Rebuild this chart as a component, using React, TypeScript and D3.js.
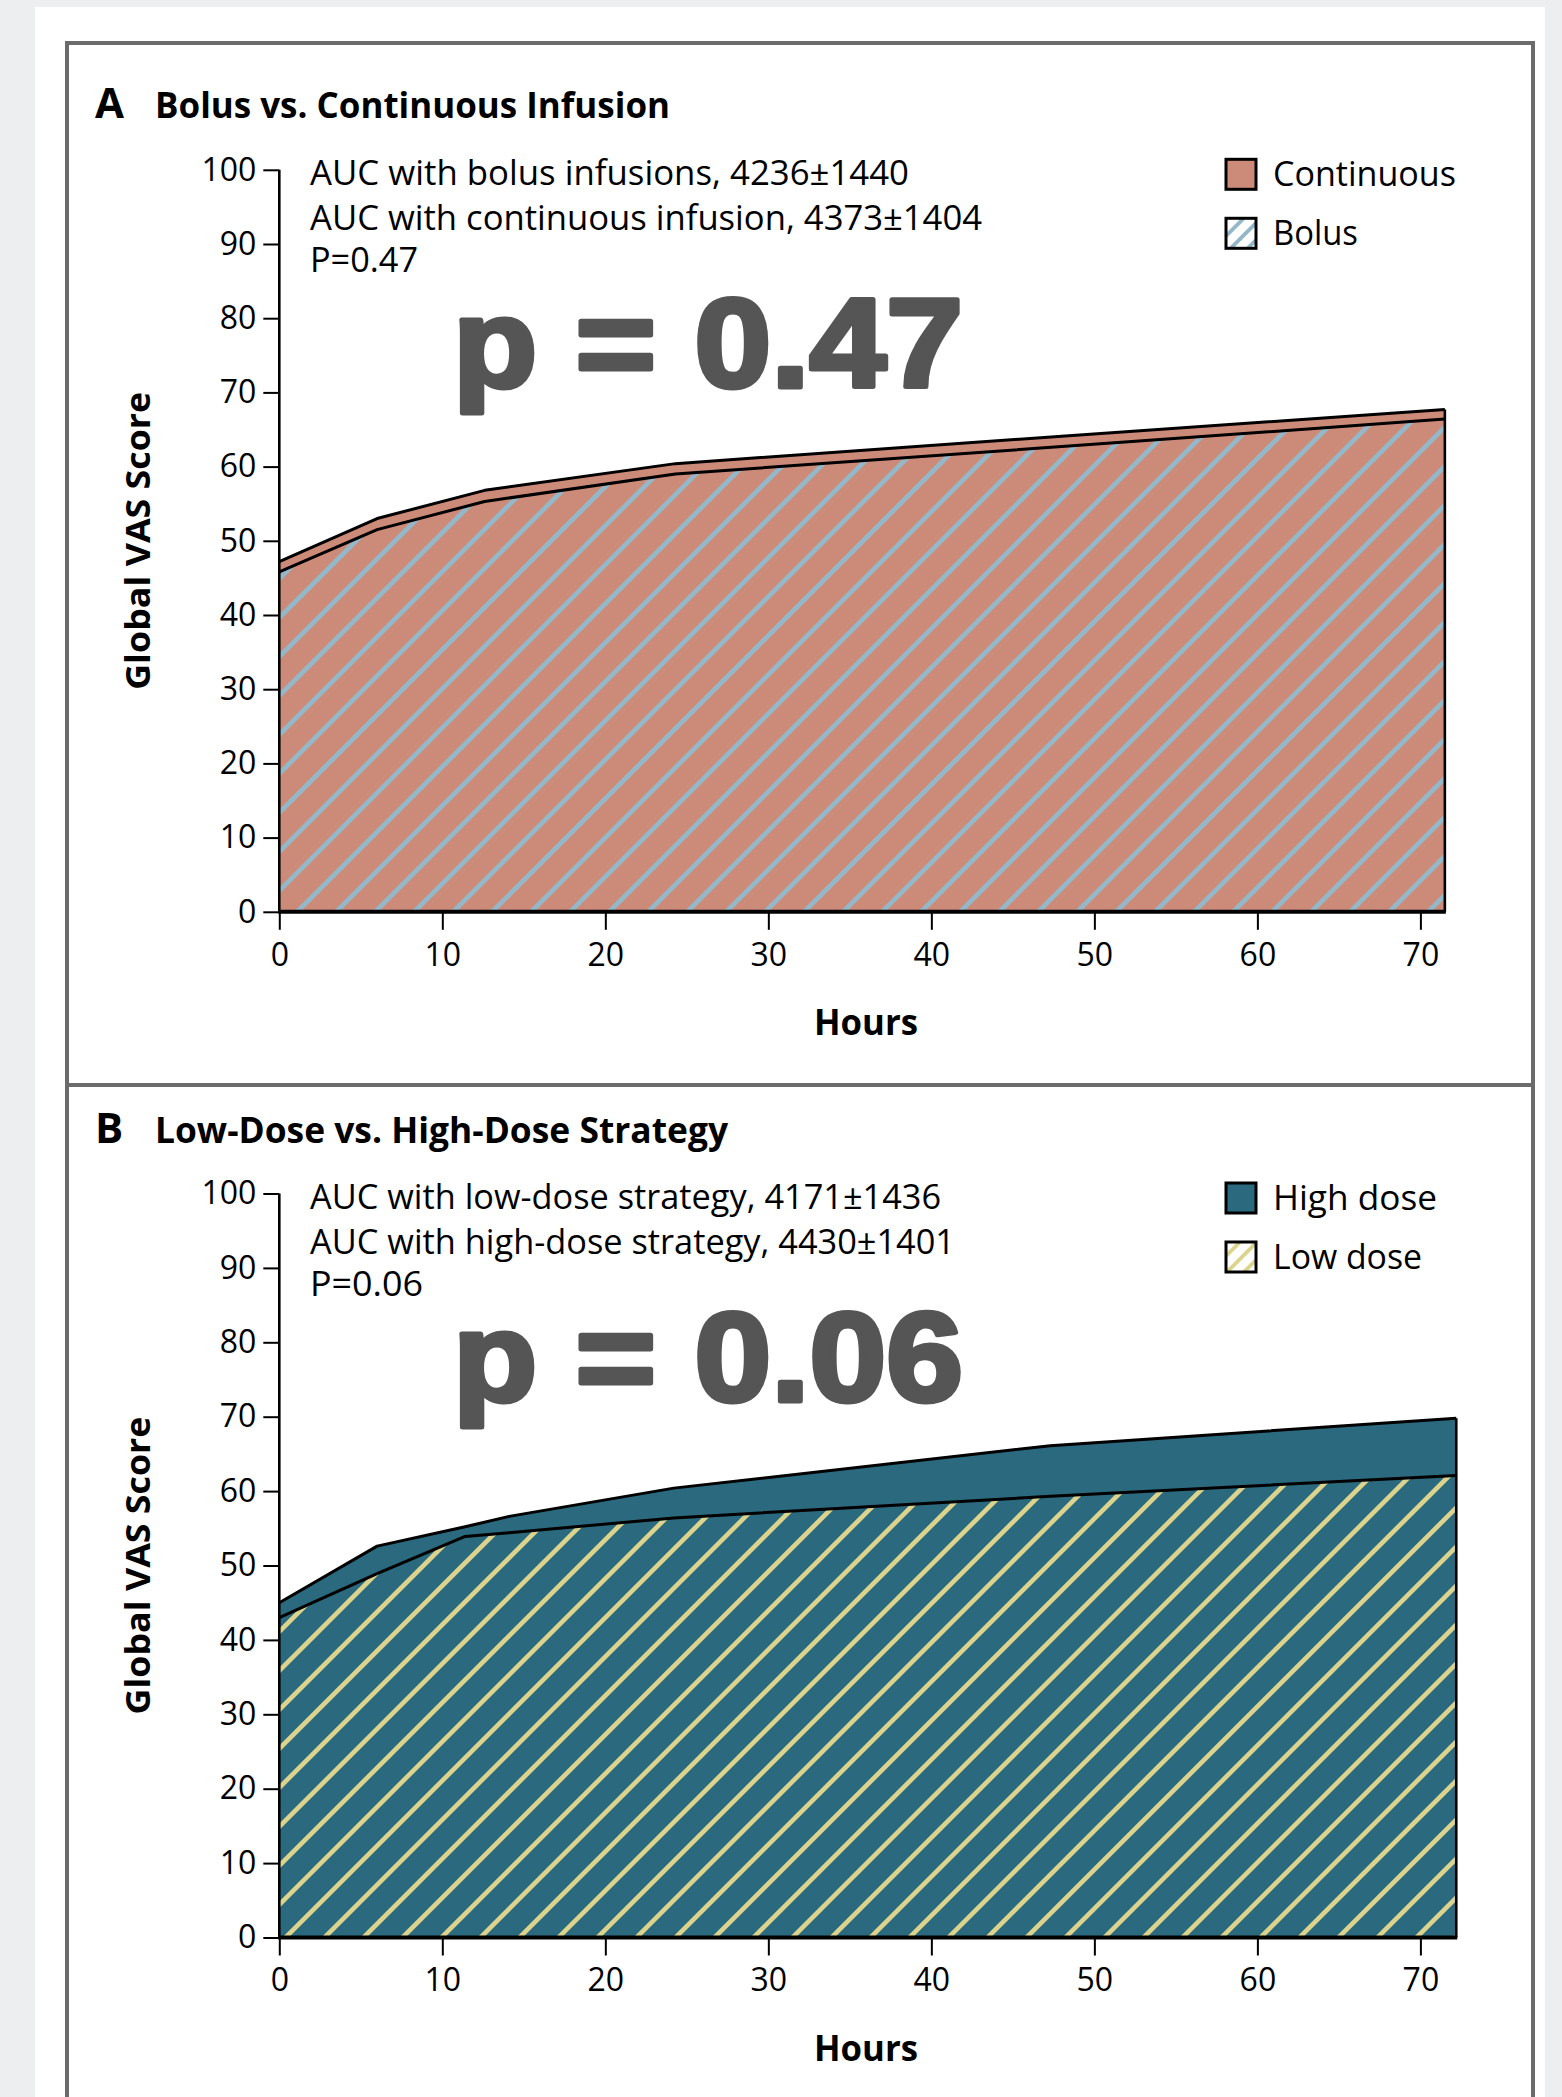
import * as d3 from "d3";
import { useEffect, useRef } from "react";

const WIDTH = 1562;
const HEIGHT = 2097;

// Panel A: bolus vs. continuous infusion
const HOURS_A = [0, 6, 12.6, 24.3, 48, 71.5];
const CONTINUOUS = [47.2, 53.0, 56.8, 60.4, 64.1, 67.7];
const BOLUS = [45.8, 51.5, 55.3, 59.0, 62.7, 66.4];
const AUC_A = [
  "AUC with bolus infusions, 4236±1440",
  "AUC with continuous infusion, 4373±1404",
  "P=0.47",
];

// Panel B: low-dose vs. high-dose strategy
const HOURS_B = [0, 6, 11.4, 14.1, 24.2, 47.3, 72.2];
const HIGH_DOSE = [45.0, 52.6, 55.2, 56.6, 60.4, 66.1, 69.8];
const LOW_DOSE = [43.0, 48.9, 53.9, 54.4, 56.4, 59.3, 62.1];
const AUC_B = [
  "AUC with low-dose strategy, 4171±1436",
  "AUC with high-dose strategy, 4430±1401",
  "P=0.06",
];

const Y_TICKS = [0, 10, 20, 30, 40, 50, 60, 70, 80, 90, 100];
const X_TICKS = [0, 10, 20, 30, 40, 50, 60, 70];

const SANS = "'Open Sans', 'Noto Sans', sans-serif";
const HEAVY = "'Liberation Sans', Arial, sans-serif";

interface Panel {
  key: string;
  letter: string;
  title: string;
  titleWidth: number;
  titleY: number;
  y0: number;
  y100: number;
  hours: number[];
  top: number[];
  bottom: number[];
  topColor: string;
  hatchColor: string;
  topLabel: string;
  bottomLabel: string;
  legendWidths: [number, number];
  auc: string[];
  aucWidths: number[];
  big: string;
  bigY: number;
}

const PANELS: Panel[] = [
  {
    key: "a",
    letter: "A",
    title: "Bolus vs. Continuous Infusion",
    titleWidth: 515,
    titleY: 118,
    y0: 911.8,
    y100: 169.8,
    hours: HOURS_A,
    top: CONTINUOUS,
    bottom: BOLUS,
    topColor: "#cc8b79",
    hatchColor: "#93b8c9",
    topLabel: "Continuous",
    bottomLabel: "Bolus",
    legendWidths: [183, 85],
    auc: AUC_A,
    aucWidths: [599, 672, 108],
    big: "p = 0.47",
    bigY: 387,
  },
  {
    key: "b",
    letter: "B",
    title: "Low-Dose vs. High-Dose Strategy",
    titleWidth: 573,
    titleY: 1143,
    y0: 1937.5,
    y100: 1193.5,
    hours: HOURS_B,
    top: HIGH_DOSE,
    bottom: LOW_DOSE,
    topColor: "#2b697e",
    hatchColor: "#dcd48c",
    topLabel: "High dose",
    bottomLabel: "Low dose",
    legendWidths: [164, 149],
    auc: AUC_B,
    aucWidths: [631, 645, 113],
    big: "p = 0.06",
    bigY: 1401,
  },
];

type Sel = d3.Selection<SVGGElement, unknown, null, undefined>;

function drawPanel(root: Sel, defs: d3.Selection<SVGDefsElement, unknown, null, undefined>, p: Panel) {
  const x = d3.scaleLinear().domain([0, 70]).range([279.3, 1420.4]);
  const y = d3.scaleLinear().domain([0, 100]).range([p.y0, p.y100]);
  const g = root.append("g");

  // diagonal hatch for the lower series (transparent so the upper fill shows through)
  const pat = defs
    .append("pattern")
    .attr("id", `hatch-${p.key}`)
    .attr("patternUnits", "userSpaceOnUse")
    .attr("width", 39)
    .attr("height", 39);
  pat
    .append("path")
    .attr("d", "M-6,6 L6,-6 M0,39 L39,0 M33,45 L45,33")
    .attr("stroke", p.hatchColor)
    .attr("stroke-width", 4.6);

  const legPat = defs
    .append("pattern")
    .attr("id", `hatch-leg-${p.key}`)
    .attr("patternUnits", "userSpaceOnUse")
    .attr("width", 17)
    .attr("height", 17);
  legPat.append("rect").attr("width", 17).attr("height", 17).attr("fill", "#fff");
  legPat
    .append("path")
    .attr("d", "M-4,4 L4,-4 M0,17 L17,0 M13,21 L21,13")
    .attr("stroke", p.hatchColor)
    .attr("stroke-width", 3.8);

  const data = p.hours.map((h, i) => ({ h, top: p.top[i], bottom: p.bottom[i] }));
  const last = data[data.length - 1];

  const areaTop = d3
    .area<(typeof data)[number]>()
    .x((d) => x(d.h))
    .y0(y(0))
    .y1((d) => y(d.top));
  const areaBottom = d3
    .area<(typeof data)[number]>()
    .x((d) => x(d.h))
    .y0(y(0))
    .y1((d) => y(d.bottom));

  g.append("path").attr("d", areaTop(data) ?? "").attr("fill", p.topColor);
  g.append("path").attr("d", areaBottom(data) ?? "").attr("fill", `url(#hatch-${p.key})`);

  const lineTop = d3
    .line<(typeof data)[number]>()
    .x((d) => x(d.h))
    .y((d) => y(d.top));
  const lineBottom = d3
    .line<(typeof data)[number]>()
    .x((d) => x(d.h))
    .y((d) => y(d.bottom));
  [lineTop, lineBottom].forEach((ln) =>
    g
      .append("path")
      .attr("d", ln(data) ?? "")
      .attr("fill", "none")
      .attr("stroke", "#000")
      .attr("stroke-width", 3)
      .attr("stroke-linejoin", "round"),
  );

  // right edge of the filled region
  g.append("line")
    .attr("x1", x(last.h))
    .attr("x2", x(last.h))
    .attr("y1", y(last.top))
    .attr("y2", y(0))
    .attr("stroke", "#000")
    .attr("stroke-width", 2.6);

  // axes
  const yAxis = g
    .append("g")
    .attr("transform", `translate(${x(0)},0)`)
    .call(d3.axisLeft(y).tickValues(Y_TICKS).tickSize(16).tickPadding(7));
  const xAxis = g
    .append("g")
    .attr("transform", `translate(0,${y(0)})`)
    .call(d3.axisBottom(x).tickValues(X_TICKS).tickSize(18).tickPadding(13));
  [yAxis, xAxis].forEach((ax) => {
    ax.select(".domain").remove();
    ax.attr("font-family", SANS).attr("font-size", 32);
    ax.selectAll(".tick line").attr("stroke", "#000").attr("stroke-width", 2);
    ax.selectAll(".tick text").attr("fill", "#000");
  });
  g.append("line")
    .attr("x1", x(0))
    .attr("x2", x(0))
    .attr("y1", y(100))
    .attr("y2", y(0))
    .attr("stroke", "#000")
    .attr("stroke-width", 2.6);
  g.append("line")
    .attr("x1", x(0) - 1)
    .attr("x2", x(last.h) + 1)
    .attr("y1", y(0))
    .attr("y2", y(0))
    .attr("stroke", "#000")
    .attr("stroke-width", 4);

  // axis titles
  g.append("text")
    .attr("transform", `translate(138,${(y(0) + y(100)) / 2}) rotate(-90)`)
    .attr("text-anchor", "middle")
    .attr("dy", "0.35em")
    .attr("font-family", SANS)
    .attr("font-weight", 700)
    .attr("font-size", 34)
    .attr("textLength", 298)
    .attr("lengthAdjust", "spacingAndGlyphs")
    .text("Global VAS Score");
  g.append("text")
    .attr("x", 866)
    .attr("y", y(0) + 123)
    .attr("text-anchor", "middle")
    .attr("font-family", SANS)
    .attr("font-weight", 700)
    .attr("font-size", 35)
    .attr("textLength", 104)
    .attr("lengthAdjust", "spacingAndGlyphs")
    .text("Hours");

  // panel heading
  g.append("text")
    .attr("x", 95)
    .attr("y", p.titleY)
    .attr("font-family", SANS)
    .attr("font-weight", 700)
    .attr("font-size", 42)
    .text(p.letter);
  g.append("text")
    .attr("x", 155)
    .attr("y", p.titleY)
    .attr("font-family", SANS)
    .attr("font-weight", 700)
    .attr("font-size", 36)
    .attr("textLength", p.titleWidth)
    .attr("lengthAdjust", "spacingAndGlyphs")
    .text(p.title);

  // AUC annotation
  const aucOffsets = [15.5, 60.5, 102.5];
  p.auc.forEach((line, i) =>
    g
      .append("text")
      .attr("x", 310)
      .attr("y", y(100) + aucOffsets[i])
      .attr("font-family", SANS)
      .attr("font-size", 34)
      .attr("textLength", p.aucWidths[i])
      .attr("lengthAdjust", "spacingAndGlyphs")
      .text(line),
  );

  // big p-value, stroked to get the heavy weight of the original
  g.append("text")
    .attr("x", 453)
    .attr("y", p.bigY)
    .attr("font-family", HEAVY)
    .attr("font-weight", 700)
    .attr("font-size", 126)
    .attr("fill", "#555555")
    .attr("stroke", "#555555")
    .attr("stroke-width", 5)
    .attr("stroke-linejoin", "round")
    .attr("textLength", 510)
    .attr("lengthAdjust", "spacingAndGlyphs")
    .text(p.big);

  // legend
  const legTop = y(100) - 10.5;
  const items = [
    { label: p.topLabel, fill: p.topColor, w: p.legendWidths[0] },
    { label: p.bottomLabel, fill: `url(#hatch-leg-${p.key})`, w: p.legendWidths[1] },
  ];
  items.forEach((it, i) => {
    const ty = legTop + i * 59;
    g.append("rect")
      .attr("x", 1226)
      .attr("y", ty)
      .attr("width", 30)
      .attr("height", 30)
      .attr("fill", it.fill)
      .attr("stroke", "#000")
      .attr("stroke-width", 3);
    g.append("text")
      .attr("x", 1273)
      .attr("y", ty + 27)
      .attr("font-family", SANS)
      .attr("font-size", 35)
      .attr("textLength", it.w)
      .attr("lengthAdjust", "spacingAndGlyphs")
      .text(it.label);
  });
}

const App = () => {
  const svgRef = useRef<SVGSVGElement>(null);

  useEffect(() => {
    document.body.style.margin = "0";
    const svgEl = svgRef.current;
    if (!svgEl) return;
    const svg = d3.select(svgEl);
    svg.selectAll("*").remove();

    const defs = svg.append("defs");
    const root = svg.append("g") as unknown as Sel;

    // page backdrop, white card and figure frame
    root.append("rect").attr("width", WIDTH).attr("height", HEIGHT).attr("fill", "#eceef0");
    root.append("rect").attr("x", 35).attr("y", 7).attr("width", 1510).attr("height", HEIGHT).attr("fill", "#fff");
    root
      .append("rect")
      .attr("x", 67)
      .attr("y", 43)
      .attr("width", 1466)
      .attr("height", HEIGHT)
      .attr("fill", "#fff")
      .attr("stroke", "#6b6b6b")
      .attr("stroke-width", 4);
    root
      .append("line")
      .attr("x1", 67)
      .attr("x2", 1533)
      .attr("y1", 1085)
      .attr("y2", 1085)
      .attr("stroke", "#6b6b6b")
      .attr("stroke-width", 4);

    PANELS.forEach((p) => drawPanel(root, defs, p));
  }, []);

  return (
    <div style={{ position: "absolute", left: 0, top: 0 }}>
      <svg ref={svgRef} width={WIDTH} height={HEIGHT} style={{ display: "block" }} />
    </div>
  );
};

export default App;
